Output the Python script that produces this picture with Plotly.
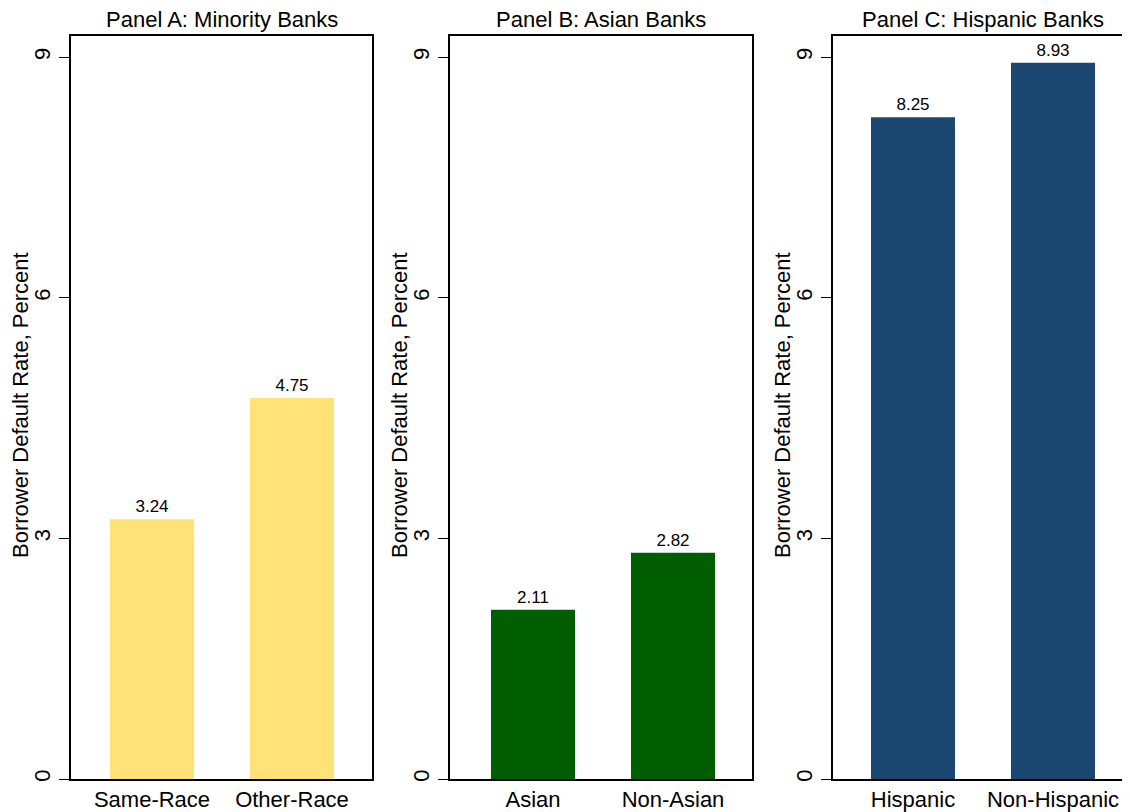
import plotly.graph_objects as go

panel_titles = ["Panel A: Minority Banks", "Panel B: Asian Banks", "Panel C: Hispanic Banks"]
cats_a = ["Same-Race", "Other-Race"]
vals_a = [3.24, 4.75]
cats_b = ["Asian", "Non-Asian"]
vals_b = [2.11, 2.82]
cats_c = ["Hispanic", "Non-Hispanic"]
vals_c = [8.25, 8.93]
colors = ["#FFE278", "#005E00", "#1C4770"]
y_ticks = [0, 3, 6, 9]
y_title = "Borrower Default Rate, Percent"

# page has an 8px body margin, so the figure is drawn 8px smaller
W, H = 1122, 804
FONT = "Liberation Sans, Arial, Helvetica, sans-serif"

fig = go.Figure()
panels = [(cats_a, vals_a), (cats_b, vals_b), (cats_c, vals_c)]
frames = [(63, 364), (442, 744), (825, 1122)]
centers = [144, 525, 905]
px_per_unit = 140.0
y_top_px, y_bot_px = 28, 771
px_per_y = 80.2
y_max = 9 + (y_bot_px - y_top_px - 9 * px_per_y) / px_per_y

for i, (cats, vals) in enumerate(panels):
    n = "" if i == 0 else str(i + 1)
    fig.add_trace(go.Bar(
        x=list(range(len(cats))), y=vals,
        marker=dict(color=colors[i], line=dict(width=0)),
        width=0.6,
        text=[f"{v:.2f}" for v in vals], textposition="outside",
        textfont=dict(size=17, color="black", family=FONT),
        cliponaxis=False,
        xaxis="x" + n, yaxis="y" + n, showlegend=False,
    ))
    l, r = frames[i]
    c = centers[i]
    xr = [(l - c) / px_per_unit, (r - c) / px_per_unit]
    fig.layout["xaxis" + n] = dict(
        domain=[l / W, min(r / W, 1.0)], range=xr,
        tickmode="array", tickvals=list(range(len(cats))), ticktext=cats,
        ticks="", showline=True, linecolor="black", linewidth=1.5, mirror=True,
        showgrid=False, zeroline=False, anchor="y" + n,
        tickfont=dict(size=22, color="black", family=FONT),
        ticklabelstandoff=0, automargin=False, fixedrange=True,
    )
    fig.layout["yaxis" + n] = dict(
        domain=[(H - y_bot_px) / H, (H - y_top_px) / H],
        range=[0, y_max],
        tickmode="array", tickvals=y_ticks, ticktext=[str(t) for t in y_ticks],
        ticks="outside", ticklen=10, tickwidth=1.2, tickcolor="black",
        tickangle=-90, ticklabelstandoff=0,
        showline=True, linecolor="black", linewidth=1.5, mirror=True,
        showgrid=False, zeroline=False, anchor="x" + n,
        tickfont=dict(size=22, color="black", family=FONT),
        automargin=False, fixedrange=True,
    )
    fig.add_annotation(
        text=panel_titles[i], xref="paper", yref="paper",
        x=((l + (r if i < 2 else 1125)) / 2) / W, y=(H - 11) / H,
        xanchor="center", yanchor="middle", showarrow=False,
        font=dict(size=22, color="black", family=FONT),
    )
    fig.add_annotation(
        text=y_title, xref="paper", yref="paper",
        x=(l - 51) / W, y=(H - 397) / H, textangle=-90,
        xanchor="center", yanchor="middle", showarrow=False,
        font=dict(size=22, color="black", family=FONT),
    )

fig.update_layout(
    width=W, height=H, margin=dict(l=0, r=0, t=0, b=0),
    paper_bgcolor="white", plot_bgcolor="white",
    font=dict(family=FONT, color="black"),
    bargap=0.4,
)
fig.write_html("out.html")
